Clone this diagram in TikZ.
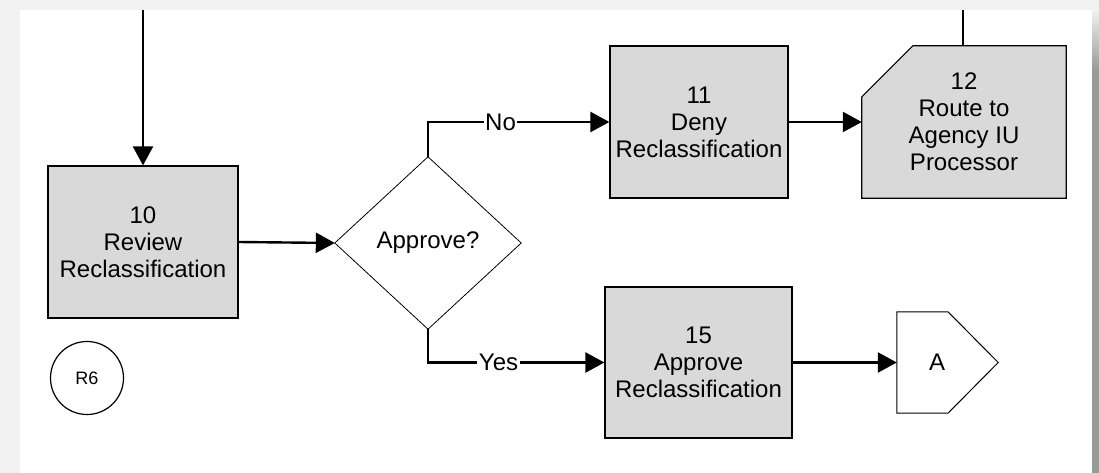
\documentclass[tikz,border=0pt]{standalone}
\usepackage{fontspec}
\setmainfont{Liberation Sans}
\usetikzlibrary{arrows.meta}

\definecolor{boxfill}{RGB}{217,217,217}
\definecolor{edgegray}{RGB}{241,241,241}
\definecolor{shadowgray}{RGB}{154,154,154}

\begin{document}
\begin{tikzpicture}[x=1pt,y=-1pt,
  every node/.style={font=\fontsize{24}{27}\selectfont, align=center, inner sep=0pt},
  procbox/.style={draw=black, line width=1.2pt, fill=boxfill, rectangle},
  flow/.style={line width=2.4pt, -{Triangle[length=19pt,width=20pt]}},
  plainline/.style={line width=2.4pt},
  branchlabel/.style={fill=white, inner sep=1.5pt}
]
\useasboundingbox (0,0) rectangle (1099,473);

% page frame with its drop shadow
\fill[edgegray] (0,0) rectangle (1099,473);
\shade[top color=edgegray, bottom color=shadowgray] (1092,10) rectangle (1099,70);
\fill[shadowgray] (1092,70) rectangle (1099,473);
\fill[white] (20,10) rectangle (1092,473);

% process steps
\node[procbox, minimum width=190pt, minimum height=152pt] (b10) at (143,242)
  {10\\Review\\Reclassification};
\node[procbox, minimum width=178pt, minimum height=152pt] (b11) at (699,122)
  {11\\Deny\\Reclassification};
\node[procbox, minimum width=187pt, minimum height=151pt] (b15) at (698.5,362.5)
  {15\\Approve\\Reclassification};

% decision
\node[minimum width=186pt, minimum height=172pt] (dia) at (428,243) {};
\draw[line width=0.8pt, fill=white] (dia.north) -- (dia.east) -- (dia.south) -- (dia.west) -- cycle;
\node at (dia.center) {Approve?};

% routing step with a clipped corner
\node[minimum width=204pt, minimum height=152pt] (b12) at (964,122) {};
\draw[line width=1.2pt, fill=boxfill]
  ([yshift=-51pt]b12.north west) -- ([xshift=51pt]b12.north west) --
  (b12.north east) -- (b12.south east) -- (b12.south west) -- cycle;
\node at (b12.center) {12\\Route to\\Agency IU\\Processor};

% off-page connector
\node[minimum width=80pt, minimum height=101pt] (offA) at (937,362.5) {};
\draw[line width=1pt, fill=white]
  (offA.north west) -- ([xshift=11pt]offA.north) -- ([xshift=21pt]offA.east) --
  ([xshift=11pt]offA.south) -- (offA.south west) -- cycle;
\node at (offA.center) {A};

% reference circle
\node[draw, circle, line width=1.2pt, minimum size=73pt,
      font=\fontsize{18}{21}\selectfont] (r6) at (87,378) {R6};

% connectors
\coordinate (in10) at (143,10);
\coordinate (in12) at (963,10);
\draw[flow] (in10) -- (b10.north);
\draw[plainline] (in12) -- (in12 |- b12.north);
\draw[flow] (b10.east) -- (dia.west);
\draw[flow] (dia.north) |- node[branchlabel, pos=0.70] {No} (b11.west);
\draw[flow] (dia.south) |- node[branchlabel, pos=0.70] {Yes} (b15.west);
\draw[flow] (b11.east) -- (b12.west);
\draw[flow] (b15.east) -- (offA.west);
\end{tikzpicture}
\end{document}
